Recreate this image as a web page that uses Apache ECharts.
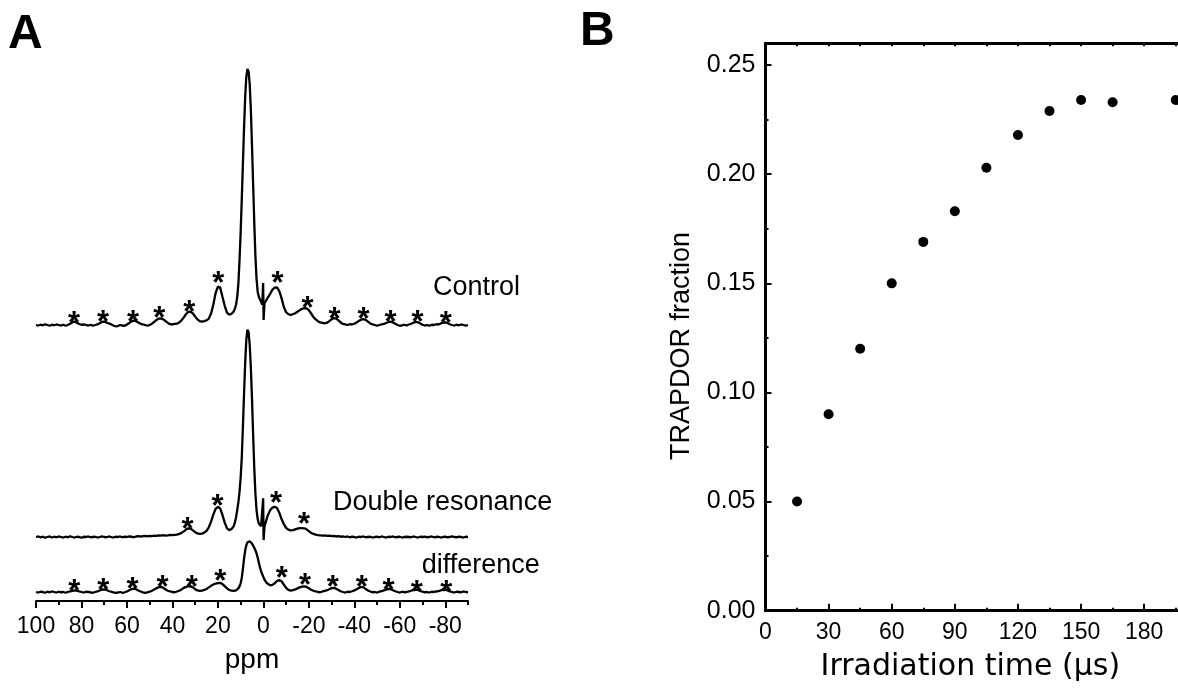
<!DOCTYPE html>
<html>
<head>
<meta charset="utf-8">
<script src="https://cdn.jsdelivr.net/npm/echarts@6/dist/echarts.min.js"></script>
<style>
html,body{margin:0;padding:0;background:#fff;}
#chart{width:1178px;height:688px;}
</style>
</head>
<body>
<div id="chart"></div>
<script>
// ---------- Panel A: spectra (chemical shift in ppm) ----------
const ppm = [
  100,99,98,97,96,95,94,93,92,91,
  90,89,88,87,86,85,84,83,82,81,
  80,79,78,77,76,75,74,73,72,71,
  70,69,68,67,66,65,64,63,62,61,
  60,59,58,57,56,55,54,53,52,51,
  50,49,48,47,46,45,44,43,42,41,
  40,39,38,37,36,35,34,33,32,31,
  30,29,28,27,26,25,24,23,22,21,
  20,19,18,17,16,15,14,13,
  12.5,12,11.5,11,10.5,10,9.5,9,8.5,8,7.5,7,6.5,6,5.5,5,4.5,4,3.5,3,2.5,2,1.5,1,0.5,
  0.1,-0.1,-0.5,-1,-1.5,-2,
  -3,-4,-5,-6,-7,-8,-9,-10,-11,-12,
  -13,-14,-15,-16,-17,-18,-19,-20,-21,-22,
  -23,-24,-25,-26,-27,-28,-29,-30,-31,-32,
  -33,-34,-35,-36,-37,-38,-39,-40,-41,-42,
  -43,-44,-45,-46,-47,-48,-49,-50,-51,-52,
  -53,-54,-55,-56,-57,-58,-59,-60,-61,-62,
  -63,-64,-65,-66,-67,-68,-69,-70,-71,-72,
  -73,-74,-75,-76,-77,-78,-79,-80,-81,-82,
  -83,-84,-85,-86,-87,-88,-89,-90
];

const control = [
  0,-0.2,0.1,-0.1,0.3,0,-0.3,0.1,-0.1,0.2,
  0,-0.2,0.1,-0.3,0,0.5,1.1,1.3,0.9,0.4,
  0.1,0.2,0,-0.2,0.1,-0.3,0,0.2,0.7,1.2,
  1.3,1,0.6,0.3,-0.2,-0.5,-0.4,0,-0.2,-0.3,
  0.2,0.8,1.4,1.7,1.5,1,0.5,0.2,0,-0.3,
  0,0.5,1.2,2,2.5,2.6,2.2,1.5,0.8,0.3,
  0.2,0.4,0.5,1,1.8,3,4.3,5.1,5.2,4.5,
  3.3,2.2,1.5,1.3,1.5,1.8,2.5,4.5,8,12.5,
  15,14.6,11,7.5,4.8,4,4.4,5.3,
  6.5,8,11,16,25,36,49,63,77,89,97,100,99,94,84,70,55,40,27,18,13,11,10,9.5,8,
  16.4,2,8.5,9.2,10,10.8,
  12.2,13.8,14.6,14.7,13.2,10.5,7,5,4.2,4,
  4.2,4.6,5.2,5.8,6.3,6.6,6.5,5.8,4.5,3.1,
  2.2,1.5,1,0.8,0.6,0.9,1.5,2.2,2.7,2.5,
  1.8,1,0.4,0.2,0,0.3,0.2,0.5,1,1.6,
  2.1,2.3,2,1.3,0.6,0.2,0,-0.3,0,0.2,
  0.4,0.8,1.2,1.3,1,0.5,0,-0.3,-0.1,0.1,
  -0.2,0.2,0.5,0.9,1.2,1.1,0.6,0.1,-0.2,0,
  -0.3,0.1,0,0.3,0.2,0.6,0.9,1,0.8,0.3,
  0,-0.2,0.1,-0.1,0.2,0,-0.2,0
];

const doubleRes = [
  0,0.2,-0.1,0.1,-0.3,0,0.2,-0.2,0.1,-0.1,
  0.2,0,-0.2,0.1,-0.1,0.3,0,-0.2,0.1,0,
  -0.3,0.1,0,0.2,-0.1,0,0.1,-0.2,0,0.2,
  0,-0.1,0.2,0,-0.2,0.1,0,0.2,-0.1,0.1,
  0,0.2,0.1,-0.1,0.2,0.3,0.1,0.3,0.4,0.2,
  0.4,0.3,0.5,0.4,0.6,0.5,0.7,0.5,0.6,0.8,
  0.7,0.8,0.9,1.2,1.6,2.2,2.9,3.4,3.3,2.6,
  1.9,1.4,1.2,1.3,1.7,2.4,3.8,6,8.8,11,
  11.8,11.2,8.6,5.6,3.4,2.7,3.1,4.3,
  5.8,7.8,10.5,13.5,17.5,23,31,43,56,68,77,81,80,75,66,54,40,27,17,10.5,7,5.3,4.6,4.2,3.6,
  15.1,-1.2,4.2,5.6,7.2,8.6,
  10.5,11.5,11.8,11.3,9.5,7,5,3.6,2.9,2.6,
  2.7,3,3.3,3.5,3.5,3.4,3,2.3,1.6,1.2,
  0.9,0.7,0.6,0.5,0.6,0.4,0.5,0.3,0.4,0.2,
  0.3,0.1,0.2,0,0.2,-0.1,0.1,0,-0.2,0.1,
  0,0.2,-0.1,0,0.1,-0.2,0,0.1,-0.1,0.2,
  0,-0.2,0.1,0,0.2,-0.1,0,0.1,-0.2,0,
  0.1,0,-0.1,0.2,0,-0.2,0.1,0,0.1,-0.1,
  0,0.2,-0.1,0,0.1,-0.2,0,0.1,-0.1,0,
  0.2,0,-0.1,0.1,0,-0.2,0.1,0
];

const difference = [
  0,-0.2,0.1,0,-0.3,0.1,-0.1,0.2,0,-0.2,
  0.1,-0.1,0,-0.3,0,0.2,0.4,0.6,0.5,0.2,
  0,-0.2,0.1,0,-0.1,-0.3,0,0.2,0.6,0.9,
  1,0.8,0.4,0.1,-0.1,-0.3,-0.2,0,-0.3,-0.1,
  0.2,0.7,1.1,1.3,1.1,0.6,0.2,-0.1,-0.3,-0.1,
  0.1,0.5,1,1.5,1.9,2,1.6,1,0.5,0.2,
  0,-0.1,0.2,0.5,1,1.6,2,2.3,2.2,1.8,
  1.1,0.6,0.4,0.5,0.8,1.2,1.8,2.4,2.9,3.3,
  3.5,3.6,3.1,2.3,1.4,0.8,0.5,0.4,
  0.5,0.6,0.9,1.4,2.2,3.4,5.5,9,13,16.2,18.3,19.4,19.9,19.8,19.4,18.9,18.2,17.3,16.3,15.1,13.4,11.5,9.6,8.1,6.9,
  6.1,5.6,4.8,4.1,3.5,3,
  2.6,2.8,3.4,4.3,4.7,4.2,2.9,1.6,0.8,0.5,
  0.7,1,1.4,1.8,2.1,2.2,2,1.5,0.9,0.5,
  0.2,0,-0.1,0.2,0.4,0.7,1.1,1.5,1.6,1.3,
  0.8,0.3,0,-0.2,0.1,0,0.3,0.6,1.1,1.6,
  2,1.8,1.2,0.6,0.2,-0.1,0,-0.2,0.1,0.3,
  0.6,0.9,1.2,1.1,0.7,0.3,0,-0.2,0.1,-0.1,
  0,0.2,0.5,0.8,0.9,0.8,0.4,0.1,-0.1,0,
  -0.2,0.1,0,0.2,0.3,0.6,0.9,0.9,0.6,0.2,
  0,-0.2,0.1,0,-0.1,0.2,0,-0.1
];

// spinning sideband markers (*)
const starsControlPpm = [83.3,70.5,57.3,45.8,32.6,19.8,-6.2,-19.4,-31.3,-44.1,-55.9,-67.8,-80.2];
const starsControlInt = [3.2,3.9,3.9,5.2,7.8,19.1,19.1,9.1,4.8,4.8,3.9,3.9,3.5];
const starsDoublePpm = [33.4,20.2,-5.6,-17.9];
const starsDoubleInt = [5.6,14.7,15.7,7.7];
const starsDiffPpm = [83.2,70.4,57.5,44.4,31.5,19.0,-8.1,-18.3,-30.5,-43.3,-55.0,-67.5,-80.4];
const starsDiffInt = [3.1,3.4,3.6,4.4,4.7,7.0,7.9,5.4,4.7,4.7,3.4,2.7,2.7];

const ppmTickLabels = [100,80,60,40,20,0,-20,-40,-60,-80];
const ppmMinorTicks = [90,70,50,30,10,-10,-30,-50,-70,-90];
const traceNames = ['Control','Double resonance','difference'];

// ---------- Panel B: TRAPDOR fraction ----------
const irradiationTime = [15,30,45,60,75,90,105,120,135,150,165,195];
const trapdorFraction = [0.050,0.090,0.120,0.150,0.169,0.183,0.203,0.218,0.229,0.234,0.233,0.234];
const timeTickLabels = [0,30,60,90,120,150,180];
const fractionTickLabels = [0,0.05,0.10,0.15,0.20,0.25];
const fractionMinorTicks = [0.025,0.075,0.125,0.175,0.225];

// ---------- build ----------
const FONT = '"Liberation Sans", Arial, sans-serif';
const chart = echarts.init(document.getElementById('chart'), null, {renderer:'canvas'});

const pair = (xs, ys) => xs.map((x, i) => [x, ys[i]]);

const specLeft = 36, specWidth = 432;
const scaleH = 281.6; // 110 intensity units
const traceTops = [69, 281, 336];
const traces = [control, doubleRes, difference];
const starsP = [starsControlPpm, starsDoublePpm, starsDiffPpm];
const starsI = [starsControlInt, starsDoubleInt, starsDiffInt];

const grid = [];
const xAxis = [];
const yAxis = [];
const series = [];

for (let k = 0; k < 3; k++) {
  grid.push({left: specLeft, width: specWidth, top: traceTops[k], height: scaleH, outerBoundsMode: 'none', containLabel: false});
  xAxis.push({gridIndex: k, type: 'value', min: -90, max: 100, inverse: true, show: false});
  yAxis.push({gridIndex: k, type: 'value', min: -10, max: 100, show: false});
  series.push({
    type: 'line', xAxisIndex: k, yAxisIndex: k, data: pair(ppm, traces[k]),
    showSymbol: false, symbol: 'none', silent: true, animation: false,
    lineStyle: {color: '#000', width: 2.3, opacity: 1}, z: 2
  });
  series.push({
    type: 'scatter', xAxisIndex: k, yAxisIndex: k, data: pair(starsP[k], starsI[k]),
    symbolSize: 0, silent: true, animation: false, z: 3,
    itemStyle: {opacity: 1, color: '#000'},
    label: {show: true, position: 'inside', formatter: '*', color: '#000', opacity: 1,
            fontFamily: FONT, fontWeight: 'bold', fontSize: 31, offset: [0, 8]}
  });
}
// axis grid for panel A
grid.push({left: specLeft, width: specWidth, top: 500, bottom: 87, outerBoundsMode: 'none', containLabel: false});
xAxis.push({
  gridIndex: 3, type: 'value', min: -90, max: 100, inverse: true, position: 'bottom',
  name: 'ppm', nameLocation: 'middle', nameGap: 45,
  nameTextStyle: {fontFamily: FONT, fontSize: 28, color: '#000'},
  axisLine: {show: true, onZero: false, lineStyle: {color: '#000', width: 2}},
  axisTick: {show: true, inside: false, length: 7, customValues: ppmTickLabels, lineStyle: {color: '#000', width: 2}},
  axisLabel: {show: true, customValues: ppmTickLabels, margin: 14, color: '#000', fontFamily: FONT, fontSize: 23},
  splitLine: {show: false}
});
xAxis.push({
  gridIndex: 3, type: 'value', min: -90, max: 100, inverse: true, position: 'bottom',
  axisLine: {show: false, onZero: false},
  axisTick: {show: true, inside: false, length: 4, customValues: ppmMinorTicks, lineStyle: {color: '#000', width: 2}},
  axisLabel: {show: false}, splitLine: {show: false}
});
yAxis.push({gridIndex: 3, type: 'value', min: 0, max: 1, show: false});

// panel B grid
grid.push({left: 765.5, top: 43.3, right: -29.3, bottom: 77.3, outerBoundsMode: 'none', containLabel: false});
xAxis.push({
  gridIndex: 4, type: 'value', min: 0, max: 210, interval: 30, position: 'bottom',
  name: 'Irradiation time (\u03bcs)', nameLocation: 'middle', nameGap: 42,
  nameTextStyle: {fontFamily: '"DejaVu Sans", Verdana, sans-serif', fontSize: 30, color: '#000', padding: [0, 32, 0, 0]},
  axisLine: {show: true, onZero: false, lineStyle: {color: '#000', width: 3}},
  axisTick: {show: true, inside: true, length: 7, lineStyle: {color: '#000', width: 2}},
  minorTick: {show: true, splitNumber: 2, length: 3, lineStyle: {color: '#000', width: 2}},
  axisLabel: {show: true, customValues: timeTickLabels, margin: 10, color: '#000', fontFamily: FONT, fontSize: 23},
  splitLine: {show: false}
});
xAxis.push({
  gridIndex: 4, type: 'value', min: 0, max: 210, interval: 15, position: 'top',
  axisLine: {show: true, onZero: false, lineStyle: {color: '#000', width: 3}},
  axisTick: {show: true, inside: true, length: 3, lineStyle: {color: '#000', width: 2}},
  axisLabel: {show: false}, splitLine: {show: false}
});
yAxis.push({
  gridIndex: 4, type: 'value', min: 0, max: 0.26, position: 'left',
  name: 'TRAPDOR fraction', nameLocation: 'middle', nameGap: 70,
  nameTextStyle: {fontFamily: FONT, fontSize: 27, color: '#000', padding: [0, 38, 0, 0]},
  axisLine: {show: true, onZero: false, lineStyle: {color: '#000', width: 3}},
  axisTick: {show: true, inside: true, length: 6, customValues: fractionTickLabels, lineStyle: {color: '#000', width: 2}},
  axisLabel: {show: true, customValues: fractionTickLabels, margin: 10, color: '#000', fontFamily: FONT, fontSize: 25,
              formatter: v => v.toFixed(2)},
  splitLine: {show: false}
});
yAxis.push({
  gridIndex: 4, type: 'value', min: 0, max: 0.26, position: 'left',
  axisLine: {show: false, onZero: false},
  axisTick: {show: true, inside: true, length: 3, customValues: fractionMinorTicks, lineStyle: {color: '#000', width: 2}},
  axisLabel: {show: false}, splitLine: {show: false}
});
series.push({
  type: 'scatter', xAxisIndex: 5, yAxisIndex: 4, data: pair(irradiationTime, trapdorFraction),
  symbol: 'circle', symbolSize: 10, itemStyle: {color: '#000', opacity: 1}, silent: true, animation: false, z: 3
});

const graphic = [
  {type: 'text', x: 8, y: 35, style: {text: 'A', font: 'bold 48px ' + FONT, fill: '#000', verticalAlign: 'middle'}},
  {type: 'text', x: 580, y: 32, style: {text: 'B', font: 'bold 48px ' + FONT, fill: '#000', verticalAlign: 'middle'}},
  {type: 'text', x: 433, y: 288, style: {text: traceNames[0], font: '27px ' + FONT, fill: '#000', verticalAlign: 'middle'}},
  {type: 'text', x: 333, y: 502.5, style: {text: traceNames[1], font: '27px ' + FONT, fill: '#000', verticalAlign: 'middle'}},
  {type: 'text', x: 421.7, y: 566, style: {text: traceNames[2], font: '27px ' + FONT, fill: '#000', verticalAlign: 'middle'}}
];

chart.setOption({
  animation: false,
  backgroundColor: '#fff',
  textStyle: {fontFamily: FONT, color: '#000'},
  grid, xAxis, yAxis, series, graphic
});
</script>
</body>
</html>
